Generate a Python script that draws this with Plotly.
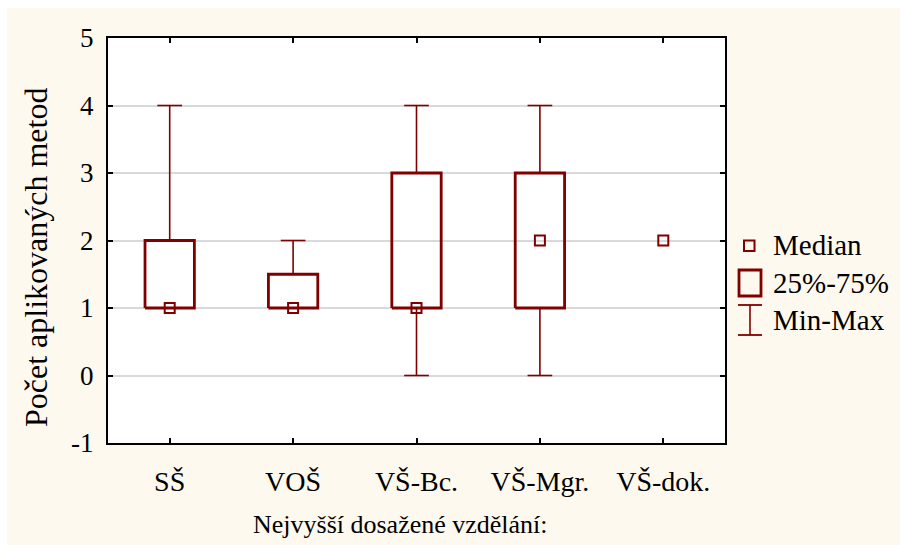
import plotly.graph_objects as go

# Summary statistics per education level
categories = ["SŠ", "VOŠ", "VŠ-Bc.", "VŠ-Mgr.", "VŠ-dok."]
median = [1, 1, 1, 2, 2]
q1 = [1, 1, 1, 1, 2]
q3 = [2, 1.5, 3, 3, 2]
vmin = [1, 1, 0, 0, 2]
vmax = [4, 2, 4, 4, 2]

y_ticks = [-1, 0, 1, 2, 3, 4, 5]
y_tick_text = ["-1", "0", "1", "2", "3", "4", "5"]

RED = "#800000"
CREAM = "#FEF9EF"
FONT = "'Liberation Serif', 'Times New Roman', Times, serif"

W, H = 900, 545
L, R, T, B = 108, 175, 38, 102
PW, PH = W - L - R, H - T - B

BOX_HALF = 0.2
CAP_HALF = 0.1


def px(x):
    return (x - L) / PW


def py(y):
    return 1 - (y - T) / PH


xs = list(range(len(categories)))

# whisker stems and caps
wx, wy = [], []
for i, c in enumerate(xs):
    if vmax[i] > q3[i]:
        wx += [c, c, None, c - CAP_HALF, c + CAP_HALF, None]
        wy += [q3[i], vmax[i], None, vmax[i], vmax[i], None]
    if vmin[i] < q1[i]:
        wx += [c, c, None, c - CAP_HALF, c + CAP_HALF, None]
        wy += [q1[i], vmin[i], None, vmin[i], vmin[i], None]

# interquartile boxes
bx, by = [], []
for i, c in enumerate(xs):
    if q3[i] > q1[i]:
        bx += [c - BOX_HALF, c + BOX_HALF, c + BOX_HALF, c - BOX_HALF, c - BOX_HALF, None]
        by += [q1[i], q1[i], q3[i], q3[i], q1[i], None]

fig = go.Figure()
fig.add_trace(go.Scatter(x=wx, y=wy, mode="lines",
                         line=dict(color=RED, width=1.6), hoverinfo="skip",
                         showlegend=False))
fig.add_trace(go.Scatter(x=bx, y=by, mode="lines",
                         line=dict(color=RED, width=2.8), hoverinfo="skip",
                         showlegend=False))
fig.add_trace(go.Scatter(x=xs, y=median, mode="markers",
                         marker=dict(symbol="square-open", size=10,
                                     color=RED, line=dict(color=RED, width=2)),
                         showlegend=False))

shapes = []
# white strips at the top and left edges of the page
shapes.append(dict(type="rect", xref="paper", yref="paper", layer="below",
                   x0=px(0), x1=px(7), y0=py(H), y1=py(0),
                   fillcolor="white", line=dict(width=0)))
shapes.append(dict(type="rect", xref="paper", yref="paper", layer="below",
                   x0=px(0), x1=px(W), y0=py(8), y1=py(0),
                   fillcolor="white", line=dict(width=0)))

# legend symbols
shapes.append(dict(type="rect", xref="paper", yref="paper",
                   x0=px(744), x1=px(754.5), y0=py(251), y1=py(240.5),
                   line=dict(color=RED, width=2)))
shapes.append(dict(type="rect", xref="paper", yref="paper",
                   x0=px(739), x1=px(761), y0=py(296), y1=py(270),
                   line=dict(color=RED, width=2.8)))
shapes.append(dict(type="line", xref="paper", yref="paper",
                   x0=px(750), x1=px(750), y0=py(335), y1=py(305),
                   line=dict(color=RED, width=1.6)))
for yy in (305, 335):
    shapes.append(dict(type="line", xref="paper", yref="paper",
                       x0=px(738), x1=px(762), y0=py(yy), y1=py(yy),
                       line=dict(color=RED, width=1.8)))

annotations = [
    dict(text="Median", x=px(771), y=py(245), xref="paper", yref="paper",
         xanchor="left", yanchor="middle", showarrow=False,
         font=dict(family=FONT, size=29, color="black")),
    dict(text="25%-75%", x=px(771), y=py(283), xref="paper", yref="paper",
         xanchor="left", yanchor="middle", showarrow=False,
         font=dict(family=FONT, size=29, color="black")),
    dict(text="Min-Max", x=px(771), y=py(320), xref="paper", yref="paper",
         xanchor="left", yanchor="middle", showarrow=False,
         font=dict(family=FONT, size=29, color="black")),
    dict(text="Nejvyšší dosažené vzdělání:", x=px(400), y=py(524),
         xref="paper", yref="paper", xanchor="center", yanchor="middle",
         showarrow=False, font=dict(family=FONT, size=26, color="black")),
    dict(text="Počet aplikovaných metod", x=px(36), y=py(258),
         xref="paper", yref="paper", xanchor="center", yanchor="middle",
         textangle=-90, showarrow=False,
         font=dict(family=FONT, size=32, color="black")),
]

fig.update_layout(
    width=W, height=H,
    margin=dict(l=L, r=R, t=T, b=B, autoexpand=False),
    paper_bgcolor=CREAM, plot_bgcolor="white",
    shapes=shapes, annotations=annotations,
    showlegend=False,
    font=dict(family=FONT, color="black"),
)
fig.update_xaxes(
    range=[-0.5, len(categories) - 0.5], tickvals=xs, ticktext=categories,
    showgrid=False, zeroline=False, showline=True, linecolor="black",
    linewidth=2, mirror="allticks", ticks="inside", ticklen=5,
    tickwidth=1.5, tickcolor="black", ticklabelstandoff=12,
    tickfont=dict(family=FONT, size=28, color="black"),
)
fig.update_yaxes(
    range=[-1, 5], tickvals=y_ticks, ticktext=y_tick_text, showgrid=True,
    gridcolor="#D9D9D9", gridwidth=1.5, zeroline=False, showline=True,
    linecolor="black", linewidth=2, mirror="allticks", ticks="inside",
    ticklen=5, tickwidth=1.5, tickcolor="black", ticklabelstandoff=7,
    tickfont=dict(family=FONT, size=27, color="black"),
)

fig.write_html("out.html")
